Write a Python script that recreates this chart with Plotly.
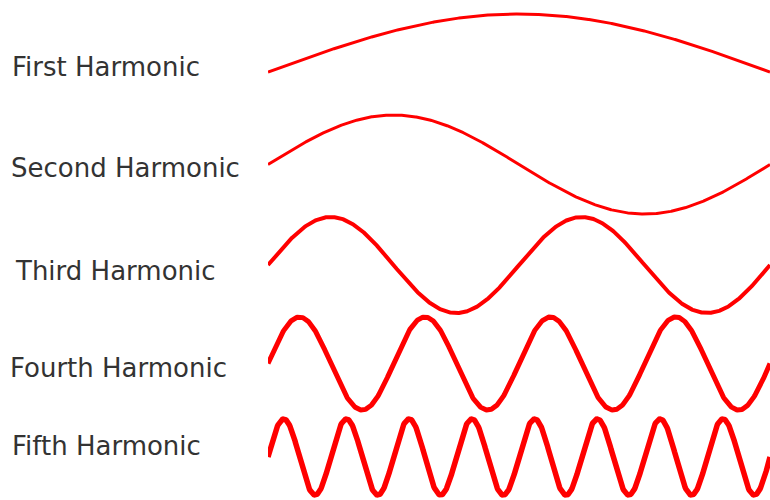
import numpy as np
import plotly.graph_objects as go

# Data
labels = ["First Harmonic", "Second Harmonic", "Third Harmonic", "Fourth Harmonic", "Fifth Harmonic"]
cycles = [0.5, 1, 2, 4, 8]            # full sine cycles across the string
amplitudes = [58, 49.5, 48, 46.5, 38]  # peak displacement

# Layout (pixel geometry of the 770x500 canvas)
W, H = 770, 500
x_left = 268
midlines = [72, 164.5, 265, 363.5, 457]
label_x = [10, 9, 13, 8, 10]
label_y = [67, 168, 271, 368, 446]
widths = [3, 3, 4, 5, 5.5]

fig = go.Figure()
xs = np.linspace(0, 1, 800)
for i, (c, a) in enumerate(zip(cycles, amplitudes)):
    ys = a * np.sin(2 * np.pi * c * xs)
    yname = "y" if i == 0 else f"y{i+1}"
    fig.add_trace(go.Scatter(x=xs, y=ys, mode="lines", yaxis=yname, xaxis="x",
                             line=dict(color="#ff0000", width=widths[i]),
                             hoverinfo="skip", showlegend=False))
    m = midlines[i]
    half = min(62, m, H - m)
    key = "yaxis" if i == 0 else f"yaxis{i+1}"
    fig.layout[key] = dict(domain=[1 - (m + half) / H, 1 - (m - half) / H],
                           range=[-half, half], visible=False, fixedrange=True,
                           anchor="x")

fig.update_layout(
    width=W, height=H,
    margin=dict(l=0, r=0, t=0, b=0),
    paper_bgcolor="white", plot_bgcolor="rgba(0,0,0,0)",
    xaxis=dict(domain=[x_left / W, 1], range=[0, 1], visible=False, fixedrange=True),
)

for i, lab in enumerate(labels):
    fig.add_annotation(text=lab, xref="paper", yref="paper",
                       x=label_x[i] / W, y=1 - label_y[i] / H,
                       xanchor="left", yanchor="middle", showarrow=False,
                       font=dict(family="DejaVu Sans", size=26, color="#333333"))

fig.write_html("out.html", config={"displayModeBar": False},
               post_script="document.body.style.margin='0';document.body.style.overflow='hidden';")
